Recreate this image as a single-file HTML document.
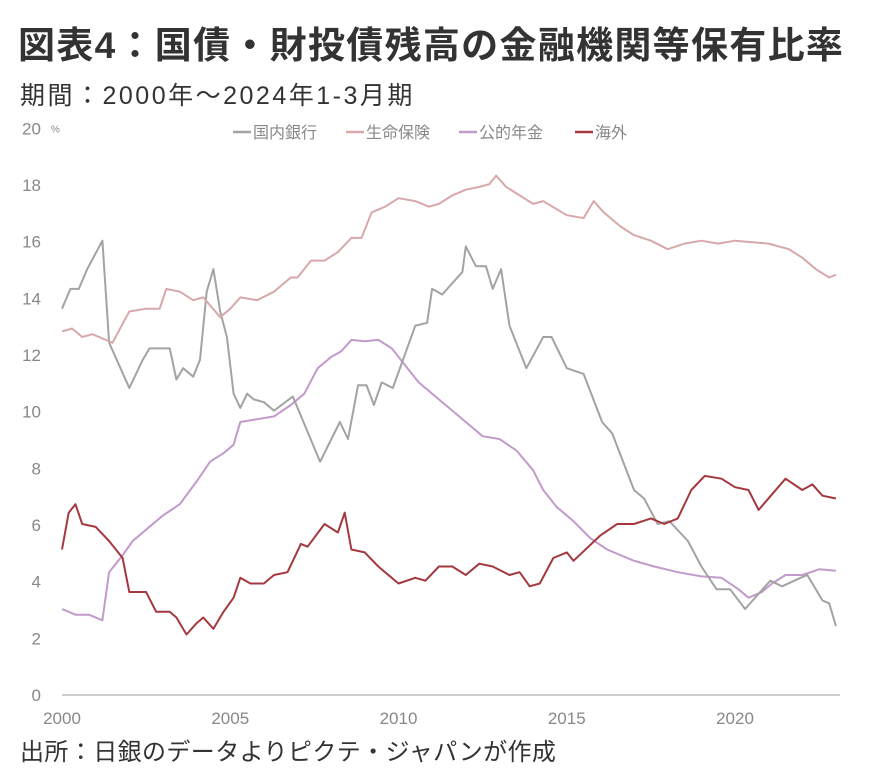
<!DOCTYPE html>
<html><head><meta charset="utf-8">
<style>
body{margin:0;background:#fff;width:879px;height:777px;overflow:hidden;font-family:"Liberation Sans","Noto Sans CJK JP",sans-serif;}
#title{position:absolute;left:18px;top:15px;font-size:37px;font-weight:bold;color:#333;letter-spacing:1.3px;white-space:nowrap}
#sub{position:absolute;left:20px;top:76px;font-size:25px;color:#333;letter-spacing:2.5px;white-space:nowrap}
#foot{position:absolute;left:20px;top:732px;font-size:24px;color:#333;letter-spacing:0.4px;white-space:nowrap}
svg{position:absolute;left:0;top:0}
</style></head><body>
<div id="title">図表4：国債・財投債残高の金融機関等保有比率</div>
<div id="sub">期間：2000年～2024年1-3月期</div>
<div id="foot">出所：日銀のデータよりピクテ・ジャパンが作成</div>
<svg id="chart" width="879" height="777"></svg>
<script>
const yTicks=[0,2,4,6,8,10,12,14,16,18,20];
const xTicks=[2000,2005,2010,2015,2020];
const seriesNames=["国内銀行","生命保険","公的年金","海外"];
const seriesColors=["#a3a3a3","#d8a8aa","#c29acb","#a3393f"];
const bankYears=[2000,2000.25,2000.5,2000.75,2001.2,2001.4,2002,2002.4,2002.6,2003,2003.2,2003.4,2003.6,2003.9,2004.1,2004.3,2004.5,2004.7,2004.9,2005.1,2005.3,2005.5,2005.7,2006,2006.3,2006.86,2007.67,2008.26,2008.5,2008.8,2009.05,2009.27,2009.5,2009.83,2010.5,2010.85,2011,2011.3,2011.9,2012,2012.3,2012.6,2012.8,2013.05,2013.3,2013.8,2014.3,2014.55,2015,2015.5,2016.05,2016.35,2017,2017.3,2017.7,2018.05,2018.6,2019,2019.45,2019.85,2020.3,2020.75,2021.05,2021.4,2021.95,2022.15,2022.6,2022.8,2023];
const bankVals=[13.6,14.3,14.3,15,16,12.4,10.8,11.8,12.2,12.2,12.2,11.1,11.5,11.2,11.8,14.2,15,13.5,12.6,10.6,10.1,10.6,10.4,10.3,10,10.5,8.2,9.6,9,10.9,10.9,10.2,11,10.8,13,13.1,14.3,14.1,14.9,15.8,15.1,15.1,14.3,15,13,11.5,12.6,12.6,11.5,11.3,9.6,9.2,7.2,6.9,6,6.1,5.4,4.5,3.7,3.7,3,3.6,4,3.8,4.1,4.2,3.3,3.2,2.4];
const lifeYears=[2000,2000.3,2000.6,2000.9,2001.5,2002,2002.5,2002.9,2003.1,2003.5,2003.9,2004.2,2004.7,2005,2005.3,2005.8,2006.3,2006.8,2007,2007.4,2007.8,2008.2,2008.6,2008.9,2009.2,2009.6,2010,2010.5,2010.9,2011.2,2011.6,2012,2012.4,2012.7,2012.9,2013.2,2013.6,2014,2014.3,2015,2015.5,2015.8,2016.1,2016.6,2017,2017.5,2018,2018.5,2019,2019.5,2020,2021,2021.6,2022,2022.4,2022.8,2023];
const lifeVals=[12.8,12.9,12.6,12.7,12.4,13.5,13.6,13.6,14.3,14.2,13.9,14,13.3,13.6,14,13.9,14.2,14.7,14.7,15.3,15.3,15.6,16.1,16.1,17,17.2,17.5,17.4,17.2,17.3,17.6,17.8,17.9,18,18.3,17.9,17.6,17.3,17.4,16.9,16.8,17.4,17,16.5,16.2,16,15.7,15.9,16,15.9,16,15.9,15.7,15.4,15,14.7,14.8];
const penYears=[2000,2000.4,2000.8,2001.2,2001.4,2001.8,2002.1,2002.5,2003,2003.5,2004,2004.4,2004.8,2005.1,2005.3,2005.8,2006.3,2006.8,2007.2,2007.6,2008,2008.3,2008.6,2009,2009.4,2009.8,2010.2,2010.6,2011,2011.5,2012,2012.5,2013,2013.5,2014,2014.3,2014.7,2015.2,2015.7,2016.2,2017,2017.6,2018.3,2019,2019.6,2020.1,2020.4,2020.8,2021.1,2021.5,2022,2022.5,2023];
const penVals=[3,2.8,2.8,2.6,4.3,4.9,5.4,5.8,6.3,6.7,7.5,8.2,8.5,8.8,9.6,9.7,9.8,10.2,10.6,11.5,11.9,12.1,12.5,12.45,12.5,12.2,11.6,11,10.6,10.1,9.6,9.1,9,8.6,7.9,7.2,6.6,6.1,5.5,5.1,4.7,4.5,4.3,4.15,4.1,3.7,3.4,3.6,3.9,4.2,4.2,4.4,4.35];
const forYears=[2000,2000.2,2000.4,2000.6,2001,2001.4,2001.8,2002,2002.5,2002.8,2003.2,2003.4,2003.7,2004,2004.2,2004.5,2004.8,2005.1,2005.3,2005.6,2006,2006.3,2006.7,2007.1,2007.3,2007.8,2008.2,2008.4,2008.6,2009,2009.4,2010,2010.5,2010.8,2011.2,2011.6,2012,2012.4,2012.8,2013.3,2013.6,2013.9,2014.2,2014.6,2015,2015.2,2016,2016.5,2017,2017.5,2017.9,2018.3,2018.7,2019.1,2019.6,2020,2020.4,2020.7,2021.5,2022,2022.3,2022.6,2023];
const forVals=[5.1,6.4,6.7,6,5.9,5.4,4.8,3.6,3.6,2.9,2.9,2.7,2.1,2.5,2.7,2.3,2.9,3.4,4.1,3.9,3.9,4.2,4.3,5.3,5.2,6,5.7,6.4,5.1,5,4.5,3.9,4.1,4,4.5,4.5,4.2,4.6,4.5,4.2,4.3,3.8,3.9,4.8,5,4.7,5.6,6,6,6.2,6,6.2,7.2,7.7,7.6,7.3,7.2,6.5,7.6,7.2,7.4,7,6.9];

const X0=62,PX=33.65,Y0=694,PY=28.33;
const xs=y=>X0+(y-2000)*PX;
const ys=v=>Y0-v*PY;
const svg=document.getElementById('chart');
const NS='http://www.w3.org/2000/svg';
function mk(t,a,txt){const e=document.createElementNS(NS,t);for(const k in a)e.setAttribute(k,a[k]);if(txt!=null)e.textContent=txt;svg.appendChild(e);return e;}
const F='"Liberation Sans","Noto Sans CJK JP",sans-serif';
const ax=mk('line',{x1:X0,x2:840,y1:Y0+1,y2:Y0+1,stroke:'#bbb','stroke-width':1.5});


yTicks.forEach(v=>{
  const t=mk('text',{x:v===20?22:41,y:ys(v)+7,'font-size':17,fill:'#888','text-anchor':v===20?'start':'end','font-family':F},String(v));
  
  
});
const pc=mk('text',{x:51,y:ys(20)+5,'font-size':10,fill:'#888','font-family':F},'%');


xTicks.forEach(v=>{
  const t=mk('text',{x:xs(v),y:724,'font-size':17,fill:'#888','text-anchor':'middle','font-family':F},String(v));
  
  
});
const allYears=[bankYears,lifeYears,penYears,forYears];
const allVals=[bankVals,lifeVals,penVals,forVals];
const order=[2,0,1,3];
order.forEach(i=>{
  const d=allYears[i].map((y,j)=>(j?'L':'M')+xs(y).toFixed(1)+','+ys(allVals[i][j]).toFixed(1)).join('');
  const p=mk('path',{d:d,fill:'none',stroke:seriesColors[i],'stroke-width':2,'stroke-linejoin':'round'});
  
  
});
const lx=[233,346,459,575];
seriesNames.forEach((n,i)=>{
  const l=mk('line',{x1:lx[i],x2:lx[i]+18,y1:132,y2:132,stroke:seriesColors[i],'stroke-width':2.5});
  
  
  const t=mk('text',{x:lx[i]+20,y:138,'font-size':16,fill:'#888','font-family':F},n);
  
  
});
</script>
</body></html>
